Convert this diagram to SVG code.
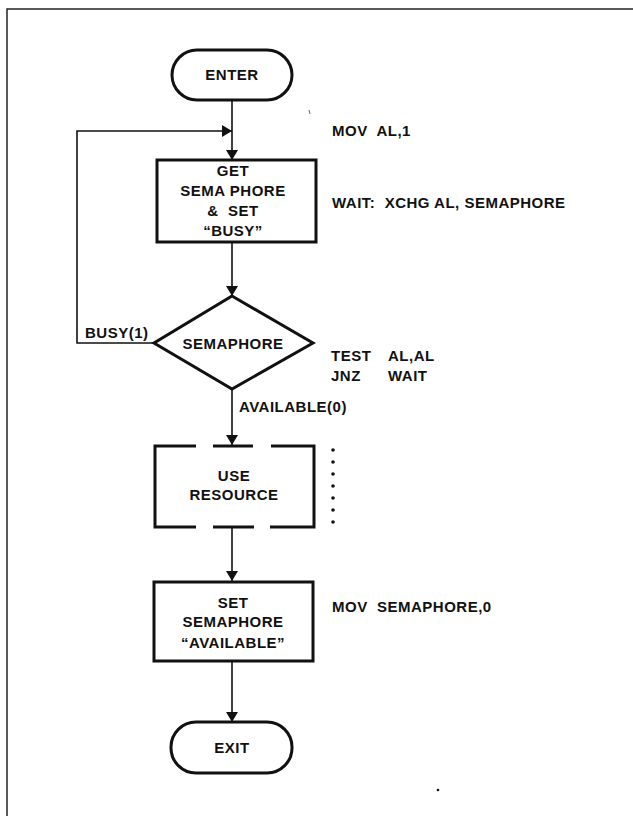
<svg xmlns="http://www.w3.org/2000/svg" width="633" height="816" viewBox="0 0 633 816">
  <defs>
    <marker id="arrow" viewBox="0 0 10 14" refX="10" refY="7" markerWidth="10" markerHeight="14" markerUnits="userSpaceOnUse" orient="auto">
      <path d="M0,1 L10,7 L0,13 Z" fill="#111"/>
    </marker>
    <style>
      .box { fill: #fff; stroke: #111; stroke-width: 3; }
      .edge { fill: none; stroke: #111; stroke-width: 1.6; }
      .frame { fill: none; stroke: #222; stroke-width: 1.5; }
      text { font-family: "Liberation Sans", Arial, Helvetica, sans-serif; font-weight: bold; font-size: 15px; letter-spacing: 0.5px; fill: #111; }
      .c { text-anchor: middle; }
    </style>
  </defs>
  <rect width="633" height="816" fill="#fff"/>

  <!-- page frame -->
  <path class="frame" d="M7,816 L7,9 L633,9"/>

  <!-- connectors -->
  <g id="connectors">
    <line class="edge" x1="232" y1="100" x2="232" y2="160" marker-end="url(#arrow)"/>
    <polyline class="edge" points="154,343 77,343 77,131 232,131" marker-end="url(#arrow)"/>
    <line class="edge" x1="232" y1="242" x2="232" y2="296" marker-end="url(#arrow)"/>
    <line class="edge" x1="232" y1="389" x2="232" y2="445" marker-end="url(#arrow)"/>
    <line class="edge" x1="232" y1="527" x2="232" y2="581" marker-end="url(#arrow)"/>
    <line class="edge" x1="232" y1="661" x2="232" y2="722" marker-end="url(#arrow)"/>
    <text x="85" y="338">BUSY(1)</text>
    <text x="239" y="412">AVAILABLE(0)</text>
  </g>

  <!-- start terminator -->
  <g id="enter">
    <rect class="box" x="172" y="50" width="120" height="50" rx="25" ry="25" stroke-width="2.5"/>
    <text class="c" x="232" y="80">ENTER</text>
  </g>

  <!-- acquire semaphore -->
  <g id="get-semaphore">
    <rect class="box" x="157" y="160" width="159" height="82"/>
    <text class="c" x="233" y="176">GET</text>
    <text class="c" x="233" y="196">SEMA PHORE</text>
    <text class="c" x="233" y="216" xml:space="preserve">&amp;  SET</text>
    <text class="c" x="233" y="236">“BUSY”</text>
  </g>

  <!-- test semaphore -->
  <g id="semaphore-test">
    <polygon class="box" points="232,296 313,343 232,389 154,343"/>
    <text class="c" x="233" y="349">SEMAPHORE</text>
  </g>

  <!-- critical section -->
  <g id="use-resource">
    <rect x="155" y="446" width="159" height="81" fill="#fff"/>
    <path class="box" fill="none" d="M196,446 L155,446 L155,527 L196,527 M213,446 L253,446 M213,527 L254,527 M271,446 L314,446 L314,527 L270,527"/>
    <text class="c" x="234" y="481">USE</text>
    <text class="c" x="234" y="500">RESOURCE</text>
    <g fill="#111">
      <circle cx="333" cy="450" r="1.8"/>
      <circle cx="333" cy="462" r="1.8"/>
      <circle cx="333" cy="474" r="1.8"/>
      <circle cx="333" cy="486" r="1.8"/>
      <circle cx="333" cy="498" r="1.8"/>
      <circle cx="333" cy="510" r="1.8"/>
      <circle cx="333" cy="522" r="1.8"/>
    </g>
  </g>

  <!-- release semaphore -->
  <g id="release-semaphore">
    <rect class="box" x="154" y="582" width="159" height="79"/>
    <text class="c" x="233" y="608">SET</text>
    <text class="c" x="233" y="627">SEMAPHORE</text>
    <text class="c" x="233" y="648">“AVAILABLE”</text>
  </g>

  <!-- end terminator -->
  <g id="exit">
    <rect class="box" x="171" y="722" width="121" height="51" rx="25" ry="25" stroke-width="2.5"/>
    <text class="c" x="232" y="753">EXIT</text>
  </g>

  <!-- assembly listing -->
  <g id="code">
    <text x="332" y="136" xml:space="preserve">MOV  AL,1</text>
    <text x="332" y="208" xml:space="preserve">WAIT:  XCHG AL, SEMAPHORE</text>
    <text x="331" y="361">TEST</text>
    <text x="388" y="361">AL,AL</text>
    <text x="331" y="381">JNZ</text>
    <text x="388" y="381">WAIT</text>
    <text x="332" y="612" xml:space="preserve">MOV  SEMAPHORE,0</text>
  </g>

  <!-- specks -->
  <path d="M309,110 L310,114" stroke="#333" stroke-width="0.8"/>
  <circle cx="438" cy="790" r="1.3" fill="#111"/>
</svg>
